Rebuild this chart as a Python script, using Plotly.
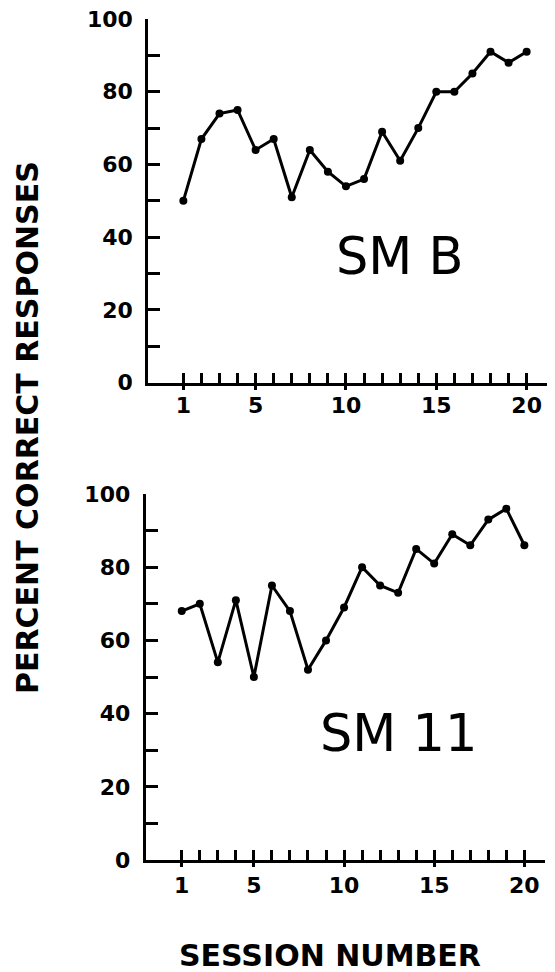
import plotly.graph_objects as go

sessions = list(range(1, 21))
smb_values = [50, 67, 74, 75, 64, 67, 51, 64, 58, 54, 56, 69, 61, 70, 80, 80, 85, 91, 88, 91]
sm11_values = [68, 70, 54, 71, 50, 75, 68, 52, 60, 69, 80, 75, 73, 85, 81, 89, 86, 93, 96, 86]
x_major = [1, 5, 10, 15, 20]
y_all = [0, 10, 20, 30, 40, 50, 60, 70, 80, 90, 100]
y_labels = ["0", "", "20", "", "40", "", "60", "", "80", "", "100"]
panel_labels = ["SM B", "SM 11"]

# page body has an 8px margin; the figure is sized/positioned to compensate
OFF = 8
FW, FH = 555 - OFF, 972 - OFF
FONT = "DejaVu Sans"
BLACK = "#000000"


def px_x(X):
    return (X - OFF) / FW


def px_y(Y):
    return 1 - (Y - OFF) / FH


fig = go.Figure()

fig.add_trace(go.Scatter(x=sessions, y=smb_values, mode="lines+markers",
                         line=dict(color=BLACK, width=3),
                         marker=dict(color=BLACK, size=8),
                         xaxis="x", yaxis="y", showlegend=False, hoverinfo="x+y"))
fig.add_trace(go.Scatter(x=sessions, y=sm11_values, mode="lines+markers",
                         line=dict(color=BLACK, width=3),
                         marker=dict(color=BLACK, size=8),
                         xaxis="x2", yaxis="y2", showlegend=False, hoverinfo="x+y"))
fig.add_trace(go.Scatter(x=sessions, y=smb_values, mode="none", xaxis="x3", yaxis="y",
                         showlegend=False, hoverinfo="skip"))
fig.add_trace(go.Scatter(x=sessions, y=sm11_values, mode="none", xaxis="x4", yaxis="y2",
                         showlegend=False, hoverinfo="skip"))

top_xdom = [px_x(148.3), px_x(546.7)]
top_ydom = [px_y(382.7), px_y(19)]
bot_xdom = [px_x(145.7), px_x(545.1)]
bot_ydom = [px_y(860), px_y(494)]
top_xr = [-0.94, 21.11]
bot_xr = [-1.0, 21.15]

tickfont = dict(family=FONT, size=22, color=BLACK, weight="bold")


def xaxis_main(dom, rng, anchor, standoff):
    return dict(domain=dom, range=rng, anchor=anchor, showgrid=False, zeroline=False,
                automargin=False, ticklabeloverflow="allow",
                showline=True, linecolor=BLACK, linewidth=3,
                tickmode="array", tickvals=sessions,
                ticktext=[str(s) if s in x_major else "" for s in sessions],
                ticks="inside", ticklen=10, tickwidth=2.5, tickcolor=BLACK,
                tickfont=tickfont, ticklabelstandoff=standoff, fixedrange=True)


def xaxis_over(dom, rng, anchor, over):
    return dict(domain=dom, range=rng, anchor=anchor, overlaying=over, showgrid=False,
                automargin=False,
                zeroline=False, showline=False, tickmode="array", tickvals=x_major,
                ticks="outside", ticklen=6, tickwidth=2.5,
                tickcolor=BLACK, showticklabels=False, fixedrange=True)


def yaxis_main(dom, anchor):
    return dict(domain=dom, range=[0, 100], anchor=anchor, showgrid=False, zeroline=False,
                automargin=False, ticklabeloverflow="allow",
                showline=True, linecolor=BLACK, linewidth=3,
                tickmode="array", tickvals=y_all, ticktext=y_labels,
                ticks="inside", ticklen=12, tickwidth=2.5, tickcolor=BLACK,
                tickfont=tickfont, ticklabelstandoff=8, fixedrange=True)


fig.update_layout(
    width=FW, height=FH,
    margin=dict(l=0, r=0, t=0, b=0, pad=0, autoexpand=False),
    paper_bgcolor="white", plot_bgcolor="white",
    showlegend=False,
    xaxis=xaxis_main(top_xdom, top_xr, "y", 1),
    yaxis=yaxis_main(top_ydom, "x"),
    xaxis2=xaxis_main(bot_xdom, bot_xr, "y2", 4),
    yaxis2=yaxis_main(bot_ydom, "x2"),
    xaxis3=xaxis_over(top_xdom, top_xr, "y", "x"),
    xaxis4=xaxis_over(bot_xdom, bot_xr, "y2", "x2"),
)

fig.add_annotation(x=13.0, y=34.8, xref="x", yref="y", text=panel_labels[0],
                   showarrow=False, font=dict(family=FONT, size=51, color=BLACK))
fig.add_annotation(x=13.0, y=34.7, xref="x2", yref="y2", text=panel_labels[1],
                   showarrow=False, font=dict(family=FONT, size=51, color=BLACK))

fig.add_annotation(x=px_x(27), y=px_y(428), xref="paper", yref="paper",
                   text="PERCENT CORRECT RESPONSES", textangle=-90, showarrow=False,
                   xanchor="center", yanchor="middle", borderpad=0,
                   font=dict(family=FONT, size=30, color=BLACK, weight="bold"))
fig.add_annotation(x=px_x(330), y=px_y(955), xref="paper", yref="paper",
                   text="SESSION NUMBER", showarrow=False,
                   xanchor="center", yanchor="middle", borderpad=0,
                   font=dict(family=FONT, size=30, color=BLACK, weight="bold"))

fig.write_html("out.html")
